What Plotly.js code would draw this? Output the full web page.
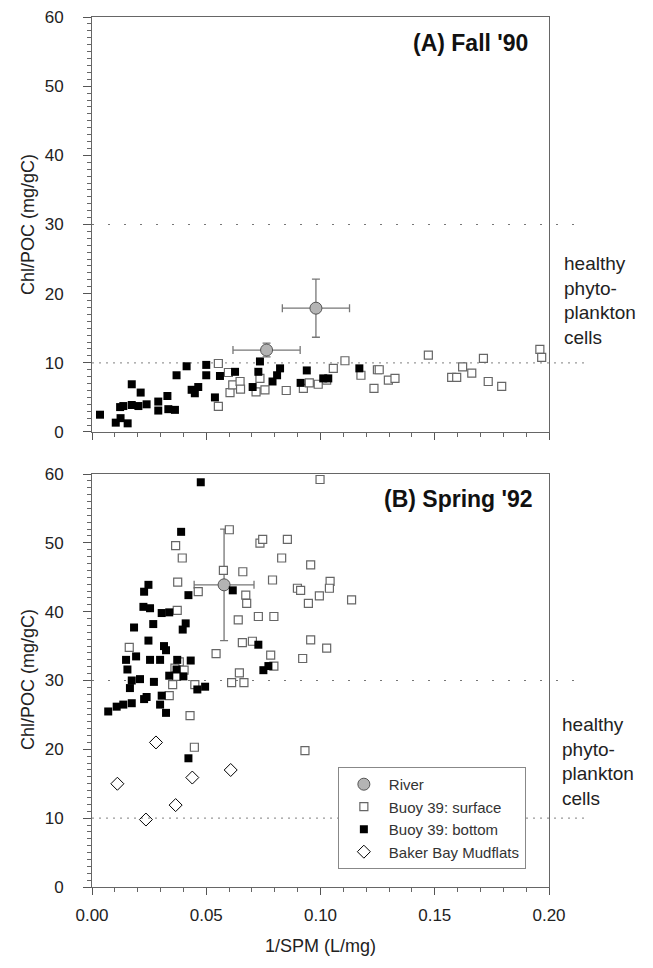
<!DOCTYPE html>
<html>
<head>
<meta charset="utf-8">
<script src="https://cdn.plot.ly/plotly-3.0.1.min.js"></script>
<style>body{margin:0;background:#fff;} #chart{width:653px;height:968px;}</style>
</head>
<body>
<div id="chart"></div>
<script>
// ---- Panel A: Fall '90 ----
var fallBottomX = [0.0035,0.0104,0.0156,0.0125,0.0123,0.0137,0.0174,0.0203,0.0174,0.0213,0.0239,0.029,0.029,0.033,0.0334,0.0363,0.037,0.0414,0.0436,0.045,0.0465,0.050,0.050,0.0538,0.056,0.0626,0.0703,0.0728,0.0735,0.079,0.081,0.0823,0.0913,0.094,0.1012,0.1034,0.117];
var fallBottomY = [2.5,1.35,1.25,2.0,3.6,3.75,3.9,3.75,6.9,5.7,4.0,4.4,3.1,5.2,3.3,3.2,8.2,9.5,6.1,5.6,6.5,9.7,8.2,5.0,8.1,8.7,6.5,8.7,10.2,7.3,8.2,9.2,7.1,8.9,7.75,7.75,9.2];
var fallSurfX = [0.0553,0.0553,0.0604,0.0616,0.0597,0.0648,0.065,0.0718,0.0735,0.0757,0.085,0.0925,0.0951,0.099,0.1027,0.1056,0.1107,0.1177,0.1234,0.1249,0.1257,0.1297,0.1326,0.1472,0.1574,0.1596,0.1622,0.1662,0.1713,0.1734,0.1793,0.196,0.1968];
var fallSurfY = [9.9,3.7,5.7,6.8,8.6,7.3,6.2,5.8,7.75,6.1,6.0,6.3,7.1,6.9,7.5,9.2,10.3,8.2,6.3,9.0,9.0,7.5,7.75,11.1,7.9,7.9,9.4,8.5,10.65,7.3,6.6,11.95,10.8];
var fallRiverX = [0.0764,0.098];
var fallRiverY = [11.85,17.9];
var fallRiverXErr = [0.0147,0.0147];
var fallRiverYErr = [1.0,4.2];

// ---- Panel B: Spring '92 ----
var springBottomX = [0.0476,0.039,0.0247,0.0228,0.0422,0.0616,0.0225,0.0254,0.0305,0.0338,0.0184,0.0268,0.041,0.0397,0.0247,0.0315,0.0324,0.0193,0.0149,0.0254,0.0298,0.0373,0.0432,0.0155,0.037,0.0338,0.04,0.0174,0.021,0.0271,0.0166,0.0461,0.0495,0.0728,0.0772,0.075,0.0305,0.0239,0.0228,0.0298,0.0324,0.0174,0.0137,0.0108,0.0071,0.0422];
var springBottomY = [58.8,51.6,43.9,42.9,42.4,43.1,40.7,40.5,39.8,39.9,37.7,38.2,38.3,37.4,35.8,35.0,34.4,33.5,33.0,33.0,33.0,33.0,32.9,31.6,31.6,30.7,30.6,30.0,30.2,29.8,28.9,28.7,29.1,35.2,32.1,31.5,27.8,27.6,27.3,26.5,25.3,26.7,26.5,26.2,25.5,18.7];
var springSurfX = [0.0998,0.0601,0.0366,0.0395,0.0735,0.0747,0.0855,0.083,0.0957,0.0575,0.066,0.0375,0.079,0.0465,0.0899,0.0913,0.1042,0.1039,0.0995,0.0947,0.1136,0.0673,0.0677,0.0373,0.064,0.0728,0.0796,0.0163,0.0658,0.0702,0.0957,0.1027,0.0543,0.0782,0.0922,0.0796,0.0382,0.0403,0.0363,0.037,0.0353,0.0338,0.045,0.0645,0.0611,0.0665,0.0429,0.0448,0.0932];
var springSurfY = [59.2,51.9,49.6,47.8,49.95,50.5,50.5,47.8,46.8,46.0,45.8,44.3,44.6,42.9,43.4,43.1,44.4,43.4,42.3,41.2,41.7,42.4,41.2,40.2,38.8,39.3,39.3,34.8,35.5,35.7,35.9,34.7,33.9,33.7,33.2,32.1,32.7,31.5,31.8,30.6,29.4,27.8,29.4,31.1,29.7,29.7,24.9,20.3,19.8];
var springRiverX = [0.0578];
var springRiverY = [43.9];
var springRiverXErr = [0.0131];
var springRiverYErr = [8.1];
var mudX = [0.028,0.0111,0.0439,0.0607,0.0366,0.0236];
var mudY = [21.0,15.0,15.9,17.0,11.9,9.8];

var seriesNames = ['River','Buoy 39: surface','Buoy 39: bottom','Baker Bay Mudflats'];
var panelTitles = ["(A) Fall '90","(B) Spring '92"];
var refLevels = [10,30];
var xTitle = '1/SPM (L/mg)';
var yTitle = 'Chl/POC (mg/gC)';
var noteText = 'healthy<br>phyto-<br>plankton<br>cells';

var riverStyle = {symbol:'circle', size:12, color:'#b4b4b4', line:{color:'#555', width:1}};
var surfStyle = {symbol:'square', size:8, color:'#ffffff', line:{color:'#666', width:1.2}};
var botStyle = {symbol:'square', size:8, color:'#000000', line:{color:'#000', width:0}};
var mudStyle = {symbol:'diamond-open', size:10, color:'#000', line:{color:'#000', width:1}};
var errStyle = {type:'data', color:'#777', thickness:1.3, width:4};

function err(arr){ return Object.assign({}, errStyle, {array: arr}); }

var traces = [
  {x:fallSurfX, y:fallSurfY, xaxis:'x', yaxis:'y', mode:'markers', type:'scatter', marker:surfStyle, showlegend:false, name:seriesNames[1]},
  {x:fallBottomX, y:fallBottomY, xaxis:'x', yaxis:'y', mode:'markers', type:'scatter', marker:botStyle, showlegend:false, name:seriesNames[2]},
  {x:fallRiverX, y:fallRiverY, xaxis:'x', yaxis:'y', mode:'markers', type:'scatter', marker:riverStyle, error_x:err(fallRiverXErr), error_y:err(fallRiverYErr), showlegend:false, name:seriesNames[0]},
  {x:springRiverX, y:springRiverY, xaxis:'x2', yaxis:'y2', mode:'markers', type:'scatter', marker:riverStyle, error_x:err(springRiverXErr), error_y:err(springRiverYErr), name:seriesNames[0]},
  {x:springSurfX, y:springSurfY, xaxis:'x2', yaxis:'y2', mode:'markers', type:'scatter', marker:surfStyle, name:seriesNames[1]},
  {x:springBottomX, y:springBottomY, xaxis:'x2', yaxis:'y2', mode:'markers', type:'scatter', marker:botStyle, name:seriesNames[2]},
  {x:mudX, y:mudY, xaxis:'x2', yaxis:'y2', mode:'markers', type:'scatter', marker:mudStyle, name:seriesNames[3]}
];

var tickFont = {family:'Liberation Sans, Arial, sans-serif', size:17, color:'#222'};
function xAx(showLabels, anchor){
  return {anchor:anchor, domain:[0,1], range:[0,0.2], dtick:0.05, tick0:0, tickformat:'.2f',
    ticks:'outside', ticklen:7, tickcolor:'#555', tickwidth:1,
    minor:{dtick:0.01, ticklen:4, ticks:'outside', tickcolor:'#666'},
    showline:true, linecolor:'#666', linewidth:1, mirror:true, showgrid:false, zeroline:false,
    showticklabels:showLabels, tickfont:tickFont, ticklabelstandoff:6};
}
function yAx(domain, anchor){
  return {anchor:anchor, domain:domain, range:[0,60], dtick:10, tick0:0,
    ticks:'outside', ticklen:8, tickcolor:'#555', tickwidth:1,
    minor:{dtick:1, ticklen:4, ticks:'outside', tickcolor:'#666'},
    showline:true, linecolor:'#666', linewidth:1, mirror:true, showgrid:false, zeroline:false,
    tickfont:tickFont, ticklabelstandoff:16};
}

var xa2 = xAx(true,'y2');
xa2.title = {text:xTitle, font:{family:'Liberation Sans, Arial, sans-serif', size:18, color:'#222'}, standoff:14};

var shapes = [];
var refDash = ['2px,5px','2px,14px'];
['y','y2'].forEach(function(yr){
  refLevels.forEach(function(lv,i){
    shapes.push({type:'line', xref:'paper', yref:yr, x0:0, x1:1.08, y0:lv, y1:lv,
      line:{color:i===0?'#999':'#777', width:1.2, dash:refDash[i]}, layer:'below'});
  });
});

var annFont = {family:'Liberation Sans, Arial, sans-serif', size:19, color:'#222'};
var annotations = [
  {text:panelTitles[0], xref:'paper', yref:'paper', x:0.958, y:0.970, xanchor:'right', yanchor:'middle', showarrow:false,
    font:{family:'Liberation Sans, Arial, sans-serif', size:23, color:'#111', weight:'bold'}},
  {text:panelTitles[1], xref:'paper', yref:'paper', x:0.969, y:0.446, xanchor:'right', yanchor:'middle', showarrow:false,
    font:{family:'Liberation Sans, Arial, sans-serif', size:23, color:'#111', weight:'bold'}},
  {text:noteText, xref:'paper', yref:'paper', x:1.028, y:0.6736, xanchor:'left', yanchor:'middle', align:'left', showarrow:false, font:annFont},
  {text:noteText, xref:'paper', yref:'paper', x:1.024, y:0.1437, xanchor:'left', yanchor:'middle', align:'left', showarrow:false, font:annFont},
  {text:yTitle, xref:'paper', yref:'paper', x:-0.14, y:(887-225)/870, xanchor:'center', yanchor:'middle', textangle:-90, showarrow:false,
    font:{family:'Liberation Sans, Arial, sans-serif', size:18, color:'#222'}},
  {text:yTitle, xref:'paper', yref:'paper', x:-0.14, y:(887-680)/870, xanchor:'center', yanchor:'middle', textangle:-90, showarrow:false,
    font:{family:'Liberation Sans, Arial, sans-serif', size:18, color:'#222'}}
];

var layout = {
  width:653, height:968,
  margin:{l:92, r:104, t:17, b:81},
  paper_bgcolor:'#fff', plot_bgcolor:'#fff',
  xaxis:xAx(false,'y'),
  yaxis:yAx([0.523,1],'x'),
  xaxis2:xa2,
  yaxis2:yAx([0,0.4747],'x2'),
  shapes:shapes,
  annotations:annotations,
  showlegend:true,
  legend:{x:0.538, y:0.138, xanchor:'left', yanchor:'top', bgcolor:'#fff', bordercolor:'#888', borderwidth:1,
    font:{family:'Liberation Sans, Arial, sans-serif', size:15, color:'#333'}, tracegroupgap:0, itemwidth:40,
    entrywidth:170},
  font:{family:'Liberation Sans, Arial, sans-serif'}
};

Plotly.newPlot('chart', traces, layout, {displayModeBar:false, staticPlot:true});
</script>
</body>
</html>
